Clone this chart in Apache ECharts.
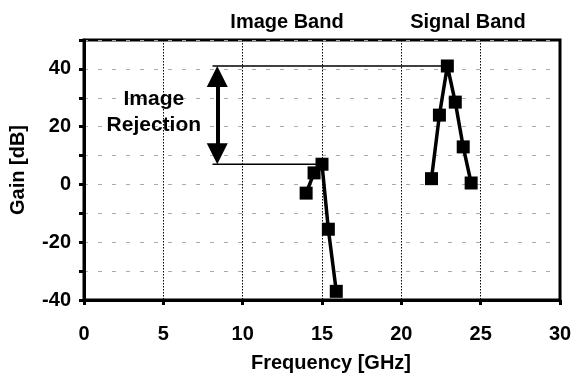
<!DOCTYPE html>
<html><head><meta charset="utf-8">
<script src="https://cdn.jsdelivr.net/npm/echarts@6/dist/echarts.min.js"></script>
<style>html,body{margin:0;padding:0;background:#fff}#c{width:580px;height:383px}</style>
</head><body><div id="c"></div>
<script>
var imageFreq = [14.0, 14.5, 15.0, 15.4, 15.9];
var imageGain = [-3, 4, 7, -15.5, -37];
var signalFreq = [21.9, 22.4, 22.9, 23.4, 23.9, 24.4];
var signalGain = [2, 24, 41, 28.5, 13, 0.5];
var rejTop = 41, rejBottom = 7, rejX = 8.1, rejArrowX = 8.4;
var xTicks = [0, 5, 10, 15, 20, 25, 30];
var yTicks = [-40, -20, 0, 20, 40];

var F = "'Liberation Sans', Arial, sans-serif";
function pairs(xs, ys){ return xs.map(function(x,i){ return [x, ys[i]]; }); }

var chart = echarts.init(document.getElementById('c'));
chart.setOption({
  animation: false,
  backgroundColor: '#fff',
  title: [
    {text: 'Image Band', left: 282, top: 7, textAlign: 'center', textStyle: {fontFamily: F, fontWeight: 'bold', fontSize: 20, color: '#000'}},
    {text: 'Signal Band', left: 463, top: 7, textAlign: 'center', textStyle: {fontFamily: F, fontWeight: 'bold', fontSize: 20, color: '#000'}}
  ],
  grid: {left: 84, right: 20, top: 40, bottom: 83, show: true, borderColor: '#000', borderWidth: 3, backgroundColor: 'transparent'},
  xAxis: {
    type: 'value', min: 0, max: 30, interval: 5,
    name: 'Frequency [GHz]', nameLocation: 'middle', nameGap: 53,
    nameTextStyle: {fontFamily: F, fontWeight: 'bold', fontSize: 20, color: '#000', padding: [0, 0, 0, 18]},
    axisLine: {show: true, onZero: false, lineStyle: {color: '#000', width: 3}},
    axisTick: {show: true, length: 5, lineStyle: {color: '#000', width: 3}},
    axisLabel: {margin: 24, fontFamily: F, fontWeight: 'bold', fontSize: 20, color: '#000',
      formatter: function(v){ return xTicks.indexOf(v) >= 0 ? String(v) : ''; }},
    splitLine: {show: true, lineStyle: {color: '#000', type: [1.5, 1.5], width: 1}}
  },
  yAxis: {
    type: 'value', min: -40, max: 50, interval: 10,
    name: 'Gain [dB]', nameLocation: 'middle', nameGap: 56, nameRotate: 90,
    nameTextStyle: {fontFamily: F, fontWeight: 'bold', fontSize: 20, color: '#000'},
    axisLine: {show: true, onZero: false, lineStyle: {color: '#000', width: 3}},
    axisTick: {show: true, length: 5, lineStyle: {color: '#000', width: 3}},
    axisLabel: {margin: 13, fontFamily: F, fontWeight: 'bold', fontSize: 20, color: '#000',
      formatter: function(v){ return yTicks.indexOf(v) >= 0 ? String(v) : ''; }},
    splitLine: {show: true, lineStyle: {color: '#aaa', type: [4, 10], width: 1}}
  },
  series: [
    {type: 'line', data: [[rejX, rejTop], [signalFreq[2], rejTop]], symbol: 'none', z: 1,
     lineStyle: {color: '#000', width: 1.5}, silent: true},
    {type: 'line', data: [[rejX, rejBottom], [imageFreq[2], rejBottom]], symbol: 'none', z: 1,
     lineStyle: {color: '#000', width: 1.5}, silent: true,
     markLine: {silent: true, symbol: ['triangle', 'triangle'], symbolSize: [21, 21],
       lineStyle: {color: '#000', width: 4, type: 'solid'}, label: {show: false},
       data: [[{coord: [rejArrowX, rejTop - 3.6]}, {coord: [rejArrowX, rejBottom + 3.6]}]]}},
    {type: 'scatter', data: [[4.4, 25]], symbolSize: 0, silent: true, itemStyle: {color: '#000', opacity: 1},
     label: {show: true, position: 'inside', formatter: 'Image\nRejection', fontFamily: F, fontWeight: 'bold', fontSize: 21, lineHeight: 26, color: '#000', textBorderWidth: 0, opacity: 1}},
    {type: 'line', data: pairs(imageFreq, imageGain), symbol: 'rect', symbolSize: 13, z: 5,
     itemStyle: {color: '#000'}, lineStyle: {color: '#000', width: 3.5}},
    {type: 'line', data: pairs(signalFreq, signalGain), symbol: 'rect', symbolSize: 13, z: 5,
     itemStyle: {color: '#000'}, lineStyle: {color: '#000', width: 3.5}}
  ]
});
</script></body></html>
